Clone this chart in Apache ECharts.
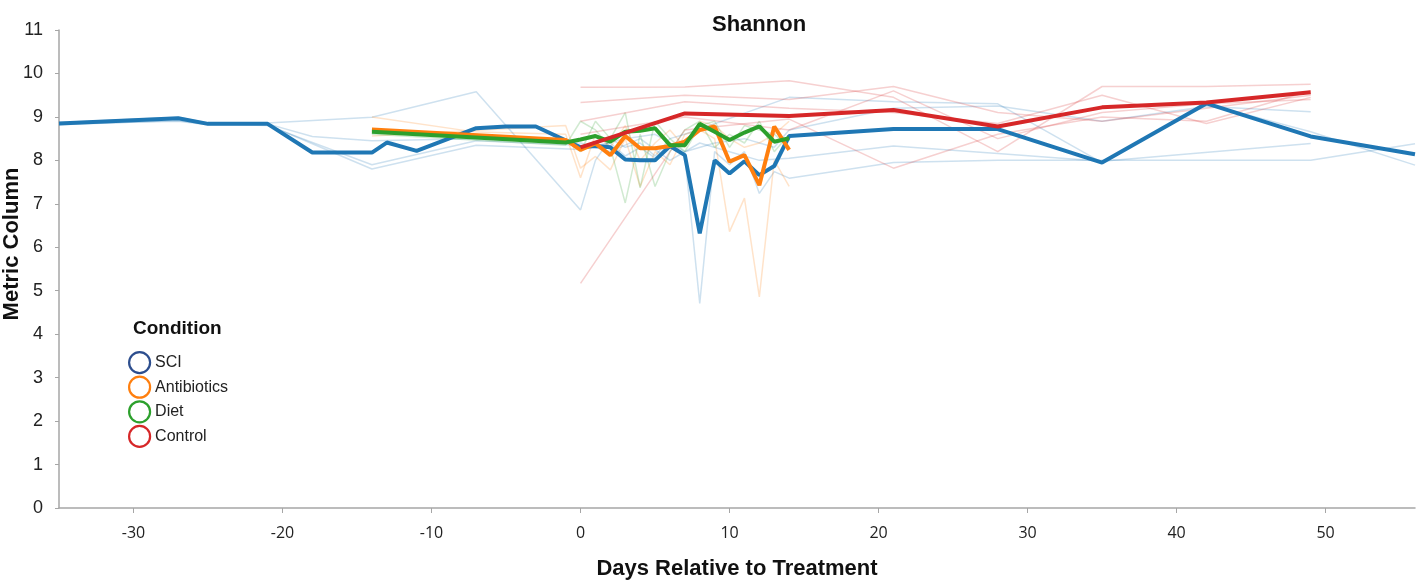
<!DOCTYPE html>
<html>
<head>
<meta charset="utf-8">
<script src="https://cdn.jsdelivr.net/npm/echarts@6/dist/echarts.min.js"></script>
<style>html,body{margin:0;padding:0;background:#fff}#c{width:1418px;height:583px}</style>
</head>
<body>
<div id="c"></div>
<script>
// ---- Data (day, Shannon) ----
const xTicks = [-30, -20, -10, 0, 10, 20, 30, 40, 50];
const conditions = ['SCI', 'Antibiotics', 'Diet', 'Control'];

const sciMean = [[-35,8.85],[-27,8.97],[-25,8.84],[-21,8.84],[-18,8.18],[-14,8.18],[-13,8.41],[-11,8.22],[-7,8.74],[-5,8.78],[-3,8.78],[0,8.3],[1,8.33],[2,8.3],[3,8.02],[4,8.0],[5,8.0],[6,8.33],[7,8.12],[8,6.32],[9,8.0],[10,7.7],[11,7.98],[12,7.66],[13,7.87],[14,8.56],[21,8.72],[28,8.72],[35,7.95],[42,9.31],[49,8.55],[56,8.14]];
const antibioticsMean = [[-14,8.71],[-1,8.47],[0,8.24],[1,8.39],[2,8.12],[3,8.56],[4,8.28],[5,8.28],[6,8.33],[7,8.43],[8,8.7],[9,8.78],[10,7.97],[11,8.12],[12,7.43],[13,8.78],[14,8.24]];
const dietMean = [[-14,8.66],[-1,8.41],[0,8.48],[1,8.56],[2,8.43],[3,8.66],[4,8.68],[5,8.74],[6,8.35],[7,8.35],[8,8.84],[9,8.66],[10,8.47],[11,8.64],[12,8.78],[13,8.43],[14,8.51]];
const controlMean = [[0,8.3],[7,9.08],[14,9.02],[21,9.16],[28,8.78],[35,9.22],[42,9.33],[49,9.57]];

const sciSubjects = [
  [[-35,8.82],[-27,8.92],[-25,8.83],[-21,8.8],[-14,7.9],[-7,8.45],[0,8.35],[1,8.3],[2,8.4],[3,8.1],[4,8.3],[5,8.05],[6,8.4],[7,8.1],[8,4.71],[9,8.2],[10,7.9],[11,8.2],[12,7.24],[13,7.74],[14,7.59],[21,7.95],[28,8.0],[35,8.0],[49,8.0],[56,8.38]],
  [[-35,8.87],[-27,8.99],[-25,8.86],[-21,8.86],[-14,8.99],[-7,9.58],[0,6.86],[1,8.0],[2,8.5],[3,8.3],[4,8.4],[5,8.1],[6,8.5],[7,8.6],[14,9.45],[21,9.35],[28,9.3],[35,7.95],[42,9.3],[49,8.66],[56,7.89]],
  [[-35,8.84],[-27,8.9],[-25,8.82],[-21,8.84],[-18,8.55],[-14,8.45],[-7,8.5],[0,8.4],[2,8.2],[4,8.5],[6,8.0],[8,8.4],[10,8.2],[12,8.0],[14,8.05],[21,8.33],[28,8.16],[35,7.98],[49,8.39]],
  [[-21,8.82],[-14,7.8],[-7,8.35],[0,8.25],[3,8.5],[5,8.6],[7,8.2],[9,8.4],[11,8.5],[13,8.3],[14,8.7],[21,9.2],[28,9.25],[35,8.9],[42,9.24],[49,9.12]]
];
const antibioticsSubjects = [
  [[-14,8.56],[-1,8.8],[0,7.82],[1,8.09],[2,7.78],[3,8.5],[4,7.4],[5,8.2],[6,7.9],[7,8.6],[8,8.7],[9,8.5],[10,6.36],[11,7.13],[12,4.86],[13,8.0],[14,7.4]],
  [[-14,9.0],[-7,8.65],[-1,8.6],[0,7.6],[1,8.6],[2,8.3],[3,8.8],[4,8.0],[5,8.4],[6,8.7],[7,8.3],[8,8.9],[9,8.8],[10,8.5],[11,8.3],[12,8.4],[13,8.6],[14,8.9]]
];
const dietSubjects = [
  [[-14,8.6],[-1,8.35],[0,8.9],[1,8.7],[2,8.3],[3,7.02],[4,8.6],[5,7.4],[6,8.2],[7,8.7],[8,8.9],[9,8.3],[10,8.6],[11,8.4],[12,8.9],[13,8.2],[14,8.6]],
  [[-14,8.7],[-1,8.45],[0,8.2],[1,8.9],[2,8.5],[3,9.1],[4,7.37],[5,8.9],[6,8.5],[7,8.2],[8,8.8],[9,8.9],[10,8.3],[11,8.8],[12,8.7],[13,8.6],[14,8.3]]
];
const controlSubjects = [
  [[0,9.68],[7,9.69],[14,9.83],[21,9.45],[28,8.2],[35,9.7],[42,9.7],[49,9.75]],
  [[0,9.33],[7,9.5],[14,9.4],[21,9.7],[28,9.1],[35,8.9],[42,9.2],[49,9.5]],
  [[0,5.17],[7,8.7],[14,8.95],[21,7.82],[28,8.6],[35,9.0],[42,8.9],[49,9.6]],
  [[0,8.9],[7,9.35],[14,9.2],[21,9.1],[28,8.85],[35,9.5],[42,8.85],[49,9.45]],
  [[0,8.6],[7,9.0],[14,8.7],[21,9.6],[28,8.5],[35,9.1],[42,9.3],[49,9.4]]
];

// ---- Styles ----
const lineColors = { SCI: '#1f77b4', Antibiotics: '#ff7f0e', Diet: '#2ca02c', Control: '#d62728' };
const ringColors = { SCI: '#2d4e8e', Antibiotics: '#ff7f0e', Diet: '#2ca02c', Control: '#d62728' };

const series = [];
function thin(name, list) {
  list.forEach((d, i) => series.push({
    name: name + '_' + i, type: 'line', data: d, showSymbol: false, silent: true,
    lineStyle: { color: lineColors[name], width: 1.5, opacity: 0.22 }, z: 1
  }));
}
thin('SCI', sciSubjects);
thin('Antibiotics', antibioticsSubjects);
thin('Diet', dietSubjects);
thin('Control', controlSubjects);
[['SCI', sciMean], ['Antibiotics', antibioticsMean], ['Diet', dietMean], ['Control', controlMean]].forEach(([n, d]) => {
  series.push({ name: n, type: 'line', data: d, showSymbol: false, color: lineColors[n],
    lineStyle: { color: lineColors[n], width: 4 }, z: 3 });
});

const chart = echarts.init(document.getElementById('c'), null, { renderer: 'canvas' });
chart.setOption({
  animation: false,
  backgroundColor: '#fff',
  title: [
    { text: 'Shannon', left: 707, top: 9, textStyle: { fontFamily: 'Liberation Sans', fontWeight: 'bold', fontSize: 22, color: '#111' } },
    { text: 'Condition', left: 128, top: 314, textStyle: { fontFamily: 'Liberation Sans', fontWeight: 'bold', fontSize: 19, color: '#111' } }
  ],
  legend: {
    orient: 'vertical', left: 128, top: 351, padding: 0, itemWidth: 21, itemHeight: 21, itemGap: 1.4,
    icon: 'circle',
    textStyle: { fontFamily: 'Liberation Sans', fontSize: 16, color: '#222', lineHeight: 21 },
    data: conditions.map(n => ({ name: n, itemStyle: { color: 'rgba(255,255,255,0)', borderColor: ringColors[n], borderWidth: 2.2 } }))
  },
  grid: { left: 59, right: 3, top: 30, bottom: 75, outerBoundsMode: 'none', containLabel: false },
  xAxis: {
    type: 'value', min: -35, max: 56,
    name: 'Days Relative to Treatment', nameLocation: 'middle', nameGap: 50,
    nameTextStyle: { fontFamily: 'Liberation Sans', fontWeight: 'bold', fontSize: 22, color: '#111' },
    axisLine: { show: true, onZero: false, lineStyle: { color: '#a6a6a6', width: 1.5 } },
    axisTick: { show: true, length: 5, lineStyle: { color: '#a6a6a6' }, customValues: xTicks },
    axisLabel: { margin: 17, fontFamily: 'Open Sans', fontSize: 16, color: '#222', customValues: xTicks },
    splitLine: { show: false }
  },
  yAxis: {
    type: 'value', min: 0, max: 11, interval: 1,
    axisLine: { show: true, onZero: false, lineStyle: { color: '#a6a6a6', width: 1.5 } },
    axisTick: { show: true, length: 4, lineStyle: { color: '#a6a6a6' } },
    axisLabel: { margin: 16, fontFamily: 'Liberation Sans', fontSize: 18, color: '#222' },
    splitLine: { show: false }
  },
  graphic: [{
    type: 'text', x: 12, y: 244, rotation: Math.PI / 2,
    style: { text: 'Metric Column', fontFamily: 'Liberation Sans', fontWeight: 'bold', fontSize: 22, fill: '#111', textAlign: 'center', textVerticalAlign: 'middle' }
  }],
  series: series
});
</script>
</body>
</html>
